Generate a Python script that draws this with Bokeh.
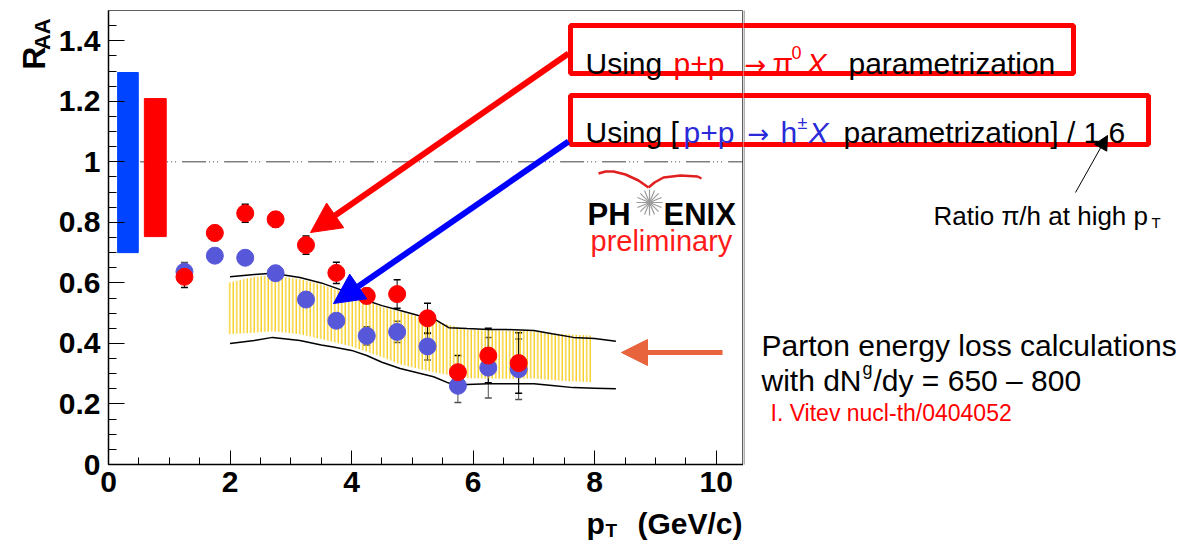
import math
from bokeh.plotting import figure
from bokeh.layouts import row, column
from bokeh.models import (Label, Arrow, NormalHead, BoxAnnotation, Whisker, TeeHead,
                          ColumnDataSource, Range1d, SingleIntervalTicker, CustomJSTickFormatter)
from bokeh.embed import file_html
from bokeh.resources import INLINE

# ---------------- data ----------------
pt = [1.25, 1.75, 2.25, 2.75, 3.25, 3.75, 4.25, 4.75, 5.25, 5.75, 6.25, 6.75]
raa_pi0 = [0.62, 0.765, 0.83, 0.81, 0.725, 0.633, 0.557, 0.563, 0.483, 0.305, 0.36, 0.335]
err_pi0 = [0.035, 0.025, 0.03, 0.025, 0.03, 0.035, 0.025, 0.047, 0.05, 0.055, 0.09, 0.1]
raa_h = [0.637, 0.69, 0.683, 0.632, 0.545, 0.475, 0.425, 0.438, 0.39, 0.26, 0.32, 0.315]
err_h = [0.03, 0.02, 0.02, 0.012, 0.015, 0.02, 0.03, 0.035, 0.045, 0.055, 0.1, 0.1]

# normalisation (systematic) boxes: h (blue), pi0 (red)
sys_left = [0.15, 0.59]
sys_right = [0.49, 0.95]
sys_bottom = [0.70, 0.753]
sys_top = [1.295, 1.209]
sys_colors = ["#0044ff", "#ff0000"]

# GLV parton energy-loss calculation (I. Vitev)
theory_pt = [2.0, 2.4, 2.7, 3.15, 3.5, 3.7, 4.0, 4.25, 4.5, 4.8, 5.1, 5.35, 5.6, 5.9,
             6.25, 6.55, 7.0, 7.3, 7.65, 8.0, 8.35]
theory_hi = [0.62, 0.628, 0.632, 0.618, 0.60, 0.586, 0.564, 0.542, 0.525, 0.509, 0.492,
             0.482, 0.452, 0.449, 0.446, 0.446, 0.443, 0.432, 0.42, 0.416, 0.407]
theory_lo = [0.40, 0.41, 0.42, 0.41, 0.395, 0.388, 0.377, 0.36, 0.338, 0.317, 0.302,
             0.29, 0.269, 0.264, 0.267, 0.267, 0.267, 0.261, 0.254, 0.252, 0.25]

band_pt = [1.95, 2.4, 2.7, 3.15, 3.5, 4.0, 4.5, 4.8, 5.35, 5.9, 6.5, 7.0, 7.5, 7.95]
band_hi = [0.60, 0.62, 0.625, 0.612, 0.595, 0.56, 0.52, 0.505, 0.475, 0.445, 0.443, 0.44, 0.43, 0.426]
band_lo = [0.43, 0.435, 0.44, 0.43, 0.415, 0.39, 0.355, 0.33, 0.305, 0.285, 0.283, 0.284, 0.276, 0.272]

ref_x = [0.52, 10.45]
ref_y = [1.0, 1.0]

x_tick_interval = 2
y_tick_interval = 0.2

# ---------------- layout (page pixels) ----------------
W, H = 1203, 545
LW = 52            # left title strip
FL, FR, FT, FB = 108, 743, 10, 464
ROW0 = 505         # height of the main row
X_END, Y_END = 10.45, 1.5
FONT = "Liberation Sans"
RED = "#ff0000"
BLUE = "#2a2ad8"


def X(px):
    return (px - FL) / (FR - FL) * X_END


def Y(py):
    return (FB - py) / (FB - FT) * Y_END


def ident(v):
    return v


def overlay(x0, x1, y0, y1):
    f = figure(width=x1 - x0, height=y1 - y0, x_range=Range1d(x0, x1), y_range=Range1d(y1, y0),
               title=None, x_axis_type=None, y_axis_type=None, output_backend="svg",
               toolbar_location=None, min_border=0, min_border_left=0, min_border_right=0,
               min_border_top=0, min_border_bottom=0)
    f.outline_line_color = None
    f.background_fill_color = "white"
    f.border_fill_color = "white"
    f.xgrid.visible = False
    f.ygrid.visible = False
    return f


def lab(fig, tx, ty, px, py, text, size, color="black", style="normal", align="left",
        angle=0.0, font=FONT):
    fig.add_layout(Label(x=tx(px), y=ty(py), text=text, text_font=font,
                         text_font_size=f"{size}px", text_color=color,
                         text_font_style=style, text_align=align,
                         text_baseline="alphabetic", angle=angle))


def box(fig, l, r, t, b):
    fig.add_layout(BoxAnnotation(left=l, right=r, top=t, bottom=b, fill_color=None,
                                 fill_alpha=0, line_color=RED, line_alpha=1.0, line_width=5))


# ---------------- main plot ----------------
p = figure(width=FR - LW, height=ROW0, x_range=Range1d(0, X_END), y_range=Range1d(0, Y_END),
           title=None, output_backend="svg", toolbar_location=None,
           min_border_left=FL - LW, min_border_right=0, min_border_top=FT,
           min_border_bottom=ROW0 - FB)
p.background_fill_color = "white"
p.border_fill_color = "white"
p.outline_line_color = "#606060"
p.outline_line_width = 1
p.xgrid.visible = False
p.ygrid.visible = False

for ax in (p.xaxis[0], p.yaxis[0]):
    ax.axis_line_color = "black"
    ax.axis_line_width = 1.5
    ax.major_tick_line_color = "black"
    ax.minor_tick_line_color = "black"
    ax.major_tick_out = 0
    ax.minor_tick_out = 0
    ax.major_label_text_font = FONT
    ax.major_label_text_font_style = "bold"
    ax.major_label_text_font_size = "30px"
    ax.major_label_text_color = "black"

p.xaxis[0].ticker = SingleIntervalTicker(interval=x_tick_interval, num_minor_ticks=4)
p.yaxis[0].ticker = SingleIntervalTicker(interval=y_tick_interval, num_minor_ticks=4)
p.yaxis[0].formatter = CustomJSTickFormatter(code="return Number(tick.toFixed(1)).toString();")
p.xaxis[0].major_tick_in = 14
p.xaxis[0].minor_tick_in = 7
p.yaxis[0].major_tick_in = 16
p.yaxis[0].minor_tick_in = 8
p.xaxis[0].major_label_standoff = 7
p.yaxis[0].major_label_standoff = 8

# hatched theory band
p.patch(band_pt + band_pt[::-1], band_hi + band_lo[::-1], fill_color=None, fill_alpha=0,
        line_color=None, hatch_pattern="|", hatch_color="#f7c600", hatch_scale=3.5,
        hatch_weight=1.2, hatch_alpha=1.0)
p.line(theory_pt, theory_hi, line_color="black", line_width=1.5)
p.line(theory_pt, theory_lo, line_color="black", line_width=1.5)

# reference line at 1
p.line(ref_x, ref_y, line_color="#404040", line_width=1, line_dash="24 3 1 3 1 3 1 6")

# normalisation boxes
p.quad(left=sys_left, right=sys_right, bottom=sys_bottom, top=sys_top,
       fill_color=sys_colors, line_color=sys_colors)

# error bars and points
src_h = ColumnDataSource(dict(x=pt, y=raa_h, lo=[v - e for v, e in zip(raa_h, err_h)],
                              hi=[v + e for v, e in zip(raa_h, err_h)]))
src_pi = ColumnDataSource(dict(x=pt, y=raa_pi0, lo=[v - e for v, e in zip(raa_pi0, err_pi0)],
                               hi=[v + e for v, e in zip(raa_pi0, err_pi0)]))
for src, col in ((src_h, "#505050"), (src_pi, "black")):
    p.add_layout(Whisker(source=src, base="x", lower="lo", upper="hi", line_color=col,
                         line_width=1,
                         lower_head=TeeHead(size=7, line_color=col, line_width=1.5),
                         upper_head=TeeHead(size=7, line_color=col, line_width=1.5)))

p.scatter("x", "y", source=src_h, size=17, marker="circle", fill_color="#5757d9",
          line_color="#5757d9")
p.scatter("x", "y", source=src_pi, size=17, marker="circle", fill_color="#ff0000",
          line_color="#ff0000")

# PHENIX logo
p.line([X(v) for v in (598, 605, 613, 625, 638, 648)],
       [Y(v) for v in (173, 171, 171, 174, 180, 187)], line_color="#e02020", line_width=2.5)
p.line([X(v) for v in (648, 654, 663, 680, 697, 701)],
       [Y(v) for v in (187, 182, 177, 175, 176, 178)], line_color="#e02020", line_width=2.5)
p.scatter([X(649)], [Y(202)], marker="asterisk", size=26, line_color="#9a9a9a", line_width=1.2)
p.scatter([X(649)], [Y(202)], marker="asterisk", size=26, line_color="#9a9a9a", line_width=1.2,
          angle=math.pi / 8)
lab(p, X, Y, 587, 214, "PH", 31, style="bold")
lab(p, X, Y, 663, 214, "ENIX", 31, style="bold")
lab(p, X, Y, 590, 240, "preliminary", 29, color="#ff1a1a")

# annotation boxes (left part)
box1 = (570, 1073, 25, 73)
box2 = (570, 1148, 95, 144)
for (l, r, t, b) in (box1, box2):
    box(p, X(l), X(r), Y(t), Y(b))

lab(p, X, Y, 585, 63, "Using", 30)
lab(p, X, Y, 673, 63, "p+p", 30, color=RED)
lab(p, X, Y, 585, 132, "Using [", 30)
lab(p, X, Y, 683, 132, "p+p", 30, color=BLUE)

# arrows inside the frame
p.add_layout(Arrow(x_start=X(568), y_start=Y(53), x_end=X(310), y_end=Y(232),
                   line_color=RED, line_width=6,
                   end=NormalHead(size=30, fill_color=RED, line_color=RED)))
p.add_layout(Arrow(x_start=X(568), y_start=Y(141), x_end=X(333), y_end=Y(303),
                   line_color="#0000ff", line_width=6,
                   end=NormalHead(size=30, fill_color="#0000ff", line_color="#0000ff")))
p.add_layout(Arrow(x_start=X(722), y_start=Y(352), x_end=X(621), y_end=Y(352),
                   line_color="#e8643c", line_width=5,
                   end=NormalHead(size=26, fill_color="#e8643c", line_color="#e8643c")))

# ---------------- right strip (texts outside the frame) ----------------
pr = overlay(FR, W, 0, H)
pr.line([FR + 0.5, FR + 0.5], [FT, FB], line_color="#606060", line_width=1)
for (l, r, t, b) in (box1, box2):
    box(pr, l, r, t, b)
lab(pr, ident, ident, 744, 64, "\u2192", 26, color=RED, font="DejaVu Sans")
lab(pr, ident, ident, 772, 63, "\u03c0", 30, color=RED)
lab(pr, ident, ident, 791, 52, "0", 18, color=RED)
lab(pr, ident, ident, 806, 63, "X", 30, color=RED, style="italic")
lab(pr, ident, ident, 848, 63, "parametrization", 30)

lab(pr, ident, ident, 747, 133, "\u2192", 26, color=BLUE, font="DejaVu Sans")
lab(pr, ident, ident, 780, 132, "h", 30, color=BLUE)
lab(pr, ident, ident, 797, 122, "\u00b1", 18, color=BLUE)
lab(pr, ident, ident, 808, 132, "X", 30, color=BLUE, style="italic")
lab(pr, ident, ident, 843, 132, "parametrization] / 1.6", 30)

pr.add_layout(Arrow(x_start=1075, y_start=192, x_end=1107, y_end=135,
                    line_color="black", line_width=1,
                    end=NormalHead(size=14, fill_color="black", line_color="black")))
lab(pr, ident, ident, 933, 215, "Ratio \u03c0/h at high p", 26)
lab(pr, ident, ident, 1151, 222, "T", 15)
lab(pr, ident, ident, 761, 345, "Parton energy loss calculations", 30)
lab(pr, ident, ident, 761, 380, "with dN", 30)
lab(pr, ident, ident, 862, 368, "g", 18)
lab(pr, ident, ident, 873, 380, "/dy = 650 \u2013 800", 30)
lab(pr, ident, ident, 770, 412, "I. Vitev nucl-th/0404052", 23, color=RED)

# ---------------- left strip: y title ----------------
pl = overlay(0, LW, 0, ROW0)
lab(pl, ident, ident, 33, 66, "R", 32, style="bold", angle=math.pi / 2)
lab(pl, ident, ident, 42, 44, "AA", 22, style="bold", angle=math.pi / 2)

# ---------------- bottom strip: x title ----------------
pb = overlay(0, FR, ROW0, H)
lab(pb, ident, ident, 586, 523, "p", 30, style="bold")
lab(pb, ident, ident, 605, 530, "T", 19, style="bold")
lab(pb, ident, ident, 742, 523, "(GeV/c)", 30, style="bold", align="right")

layout = row(column(row(pl, p, spacing=0), pb, spacing=0), pr, spacing=0)

open("out.html", "w").write(file_html(layout, INLINE))
